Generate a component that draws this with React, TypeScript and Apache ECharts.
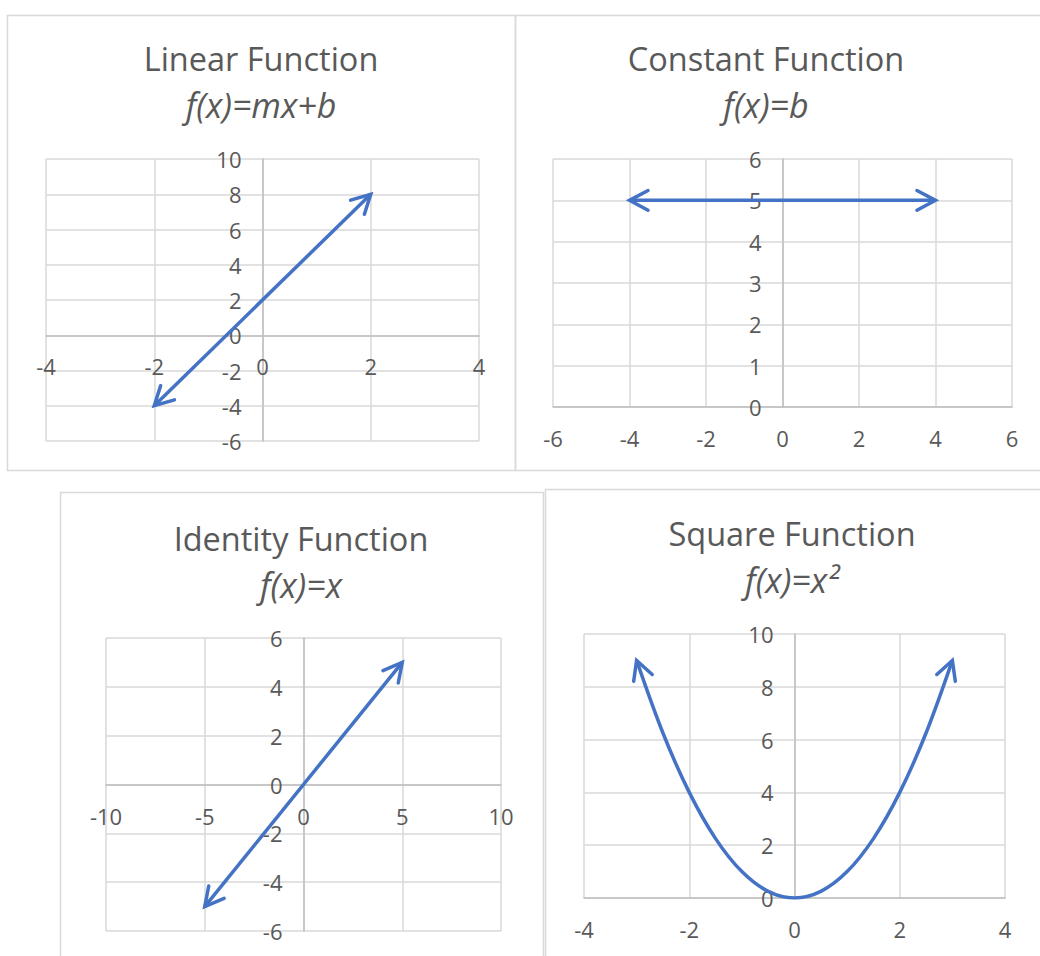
import React, { useEffect, useRef } from "react";
import * as echarts from "echarts";

// Function samples (x, y) for each panel
const linearPoints: number[][] = [[-2, -4], [2, 8]];
const constantPoints: number[][] = [[-4, 5], [4, 5]];
const identityPoints: number[][] = [[-5, -5], [5, 5]];
const squarePoints: number[][] = [
  [-3, 9], [-2.5, 6.25], [-2, 4], [-1.5, 2.25], [-1, 1], [-0.5, 0.25], [0, 0],
  [0.5, 0.25], [1, 1], [1.5, 2.25], [2, 4], [2.5, 6.25], [3, 9],
];

const panelTitles = ["Linear Function", "Constant Function", "Identity Function", "Square Function"];
const panelFormulas = ["f(x)=mx+b", "f(x)=b", "f(x)=x", "f(x)=x²"];

// [min, max, interval] per panel
const xRanges = [[-4, 4, 2], [-6, 6, 2], [-10, 10, 5], [-4, 4, 2]];
const yRanges = [[-6, 10, 2], [0, 6, 1], [-6, 6, 2], [0, 10, 2]];

const seriesPoints = [linearPoints, constantPoints, identityPoints, squarePoints];
const smoothFlags = [false, false, false, true];

const BLUE = "#4472C4";
const TEXT = "#595959";
const GRID_LINE = "#d9d9d9";
const AXIS_LINE = "#bfbfbf";
const FONT = "'Open Sans', 'Noto Sans', sans-serif";

// Plot areas in pixels
const grids = [
  { left: 46, top: 159, width: 433, height: 282 },
  { left: 553, top: 159, width: 459, height: 248 },
  { left: 106, top: 638, width: 395, height: 293 },
  { left: 584, top: 634, width: 421, height: 264 },
];

// Chart frames
const frames = [
  { x: 7.5, y: 15.5, width: 508, height: 455 },
  { x: 515.5, y: 15.5, width: 540, height: 455 },
  { x: 60.5, y: 492.5, width: 483, height: 480 },
  { x: 545.5, y: 489.5, width: 520, height: 480 },
];

const titlePos = [
  { x: 261, y: 58, sy: 105 },
  { x: 766, y: 58, sy: 105 },
  { x: 301, y: 538, sy: 585 },
  { x: 792, y: 533, sy: 580 },
];

function arrowData(pts: number[][]) {
  const n = pts.length;
  return [
    [pts[0][0], pts[0][1], pts[1][0], pts[1][1]],
    [pts[n - 1][0], pts[n - 1][1], pts[n - 2][0], pts[n - 2][1]],
  ];
}

const ARM = 21;
const HALF_ANGLE = (28 * Math.PI) / 180;

function renderArrow(_params: any, api: any) {
  const tip = api.coord([api.value(0), api.value(1)]);
  const from = api.coord([api.value(2), api.value(3)]);
  let dx = from[0] - tip[0];
  let dy = from[1] - tip[1];
  const len = Math.hypot(dx, dy) || 1;
  dx /= len;
  dy /= len;
  const rot = (a: number) => [
    tip[0] + ARM * (dx * Math.cos(a) - dy * Math.sin(a)),
    tip[1] + ARM * (dx * Math.sin(a) + dy * Math.cos(a)),
  ];
  return {
    type: "polyline",
    shape: { points: [rot(HALF_ANGLE), tip, rot(-HALF_ANGLE)] },
    style: { stroke: BLUE, lineWidth: 3.5, fill: "none", lineJoin: "miter", lineCap: "round" },
  };
}

// Distance from the plot edge to where the value 0 falls, so each axis crosses at zero
function zeroOffset(range: number[], size: number) {
  return ((0 - range[0]) / (range[1] - range[0])) * size;
}

export default function App() {
  const ref = useRef<HTMLDivElement>(null);

  useEffect(() => {
    if (!ref.current) return;
    const chart = echarts.init(ref.current, undefined, { renderer: "svg" });

    const xAxis = xRanges.map((r, i) => ({
      type: "value",
      gridIndex: i,
      position: "bottom",
      offset: -zeroOffset(yRanges[i], grids[i].height),
      min: r[0],
      max: r[1],
      interval: r[2],
      axisLine: { onZero: false, lineStyle: { color: AXIS_LINE, width: 1.5 } },
      axisTick: { show: false },
      axisLabel: {
        color: TEXT,
        fontSize: 22,
        fontFamily: FONT,
        margin: 20,
        showMinLabel: true,
        showMaxLabel: true,
      },
      splitLine: { show: true, lineStyle: { color: GRID_LINE, width: 1.5 } },
      z: 2,
    }));

    const yAxis = yRanges.map((r, i) => ({
      type: "value",
      gridIndex: i,
      position: "left",
      offset: -zeroOffset(xRanges[i], grids[i].width),
      min: r[0],
      max: r[1],
      interval: r[2],
      axisLine: { onZero: false, lineStyle: { color: AXIS_LINE, width: 1.5 } },
      axisTick: { show: false },
      axisLabel: {
        color: TEXT,
        fontSize: 22,
        fontFamily: FONT,
        margin: 21,
        showMinLabel: true,
        showMaxLabel: true,
      },
      splitLine: { show: true, lineStyle: { color: GRID_LINE, width: 1.5 } },
      z: 2,
    }));

    const lineSeries = seriesPoints.map((pts, i) => ({
      type: "line",
      xAxisIndex: i,
      yAxisIndex: i,
      data: pts,
      smooth: smoothFlags[i] ? 0.35 : false,
      showSymbol: false,
      symbol: "none",
      lineStyle: { color: BLUE, width: 3.5 },
      z: 3,
    }));

    const arrowSeries = seriesPoints.map((pts, i) => ({
      type: "custom",
      xAxisIndex: i,
      yAxisIndex: i,
      data: arrowData(pts),
      dimensions: ["x", "y", "fromX", "fromY"],
      encode: { x: 0, y: 1 },
      renderItem: renderArrow,
      clip: false,
      z: 4,
    }));

    const graphics: any[] = [];
    frames.forEach((f) => {
      graphics.push({
        type: "rect",
        shape: f,
        style: { fill: "none", stroke: GRID_LINE, lineWidth: 1.5 },
        silent: true,
      });
    });
    titlePos.forEach((p, i) => {
      graphics.push({
        type: "text",
        x: p.x,
        y: p.y,
        style: {
          text: panelTitles[i],
          fontSize: 32.5,
          fontFamily: FONT,
          fill: TEXT,
          align: "center",
          verticalAlign: "middle",
        },
      });
      graphics.push({
        type: "text",
        x: p.x,
        y: p.sy,
        style: {
          text: panelFormulas[i],
          fontSize: 34,
          fontStyle: "italic",
          fontFamily: FONT,
          fill: TEXT,
          align: "center",
          verticalAlign: "middle",
        },
      });
    });

    chart.setOption({
      animation: false,
      backgroundColor: "#ffffff",
      grid: grids.map((g) => ({ ...g, containLabel: false })),
      xAxis,
      yAxis,
      series: [...lineSeries, ...arrowSeries],
      graphic: { elements: graphics },
    });

    return () => chart.dispose();
  }, []);

  return (
    <div
      ref={ref}
      style={{ position: "absolute", left: 0, top: 0, width: 1040, height: 956, background: "#fff" }}
    />
  );
}
